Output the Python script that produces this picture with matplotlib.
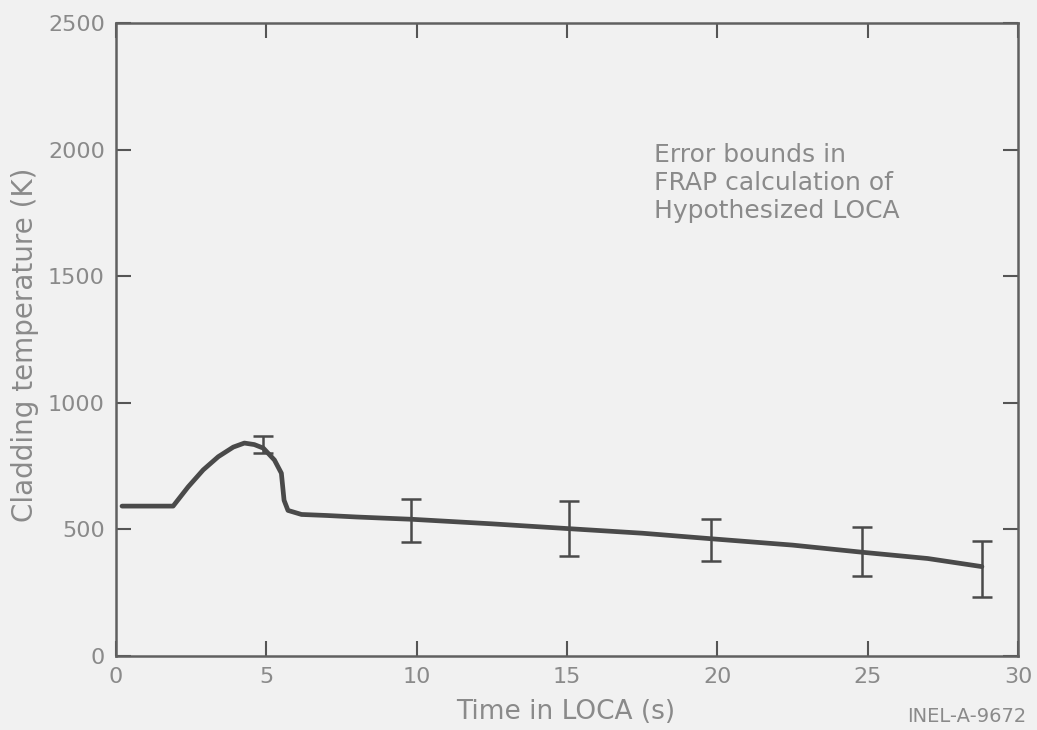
#!/usr/bin/env python3

import numpy as np
import matplotlib
matplotlib.use('Agg')
import matplotlib.pyplot as plt

# cladding temperature curve (s, K)
time = [0.2, 1.0, 1.9, 2.4, 2.9, 3.4, 3.9, 4.27, 4.6, 4.9, 5.27, 5.5,
        5.59, 5.72, 6.17, 7.0, 8.0, 9.0, 9.83, 12.5, 15.05, 17.5, 19.8,
        22.5, 24.8, 27.0, 28.8]
temp = [592, 592, 592, 668, 735, 787, 825, 841, 835, 821, 774, 722,
        615, 575, 559, 555, 549, 544, 540, 522, 503, 485, 463,
        438, 410, 385, 353]

# error bounds
err_t = [4.9, 9.8, 15.05, 19.8, 24.8, 28.8]
err_mid = [821, 540, 503, 463, 410, 353]
err_hi = [870, 619, 612, 540, 509, 456]
err_lo = [800, 450, 393, 374, 317, 234]

xticks = [0, 5, 10, 15, 20, 25, 30]
yticks = [0, 500, 1000, 1500, 2000, 2500]

bg = '#f1f1f1'
ink = '#4a4a4a'
txt = '#8a8a8a'

plt.rcParams['font.family'] = ['DejaVu Sans']

fig = plt.figure(figsize=(10.37, 7.30), dpi=100, facecolor=bg)
ax = fig.add_axes([116/1037, 1 - 656/730, (1018-116)/1037, (656-23)/730])
ax.set_facecolor(bg)

ax.plot(time, temp, color=ink, lw=3.4, solid_capstyle='round')
lo = np.array(err_mid) - np.array(err_lo)
hi = np.array(err_hi) - np.array(err_mid)
ax.errorbar(err_t, err_mid, yerr=[lo, hi], fmt='none', ecolor=ink,
            elinewidth=1.8, capsize=7, capthick=1.8)

ax.set_xlim(0, 30)
ax.set_ylim(0, 2500)
ax.set_xticks(xticks)
ax.set_yticks(yticks)
ax.tick_params(direction='in', length=11, width=1.5, color='#555555',
               top=True, right=True, labelsize=16, labelcolor=txt, pad=8)
for s in ax.spines.values():
    s.set_color('#606060')
    s.set_linewidth(1.8)

ax.text(17.9, 1868, 'Error bounds in\nFRAP calculation of\nHypothesized LOCA',
        fontsize=18, color=txt, va='center', ha='left', linespacing=1.2)

fig.text(25/1037, 1 - 345/730, 'Cladding temperature (K)', rotation=90,
         fontsize=20, color=txt, ha='center', va='center')
fig.text(566/1037, 1 - 712/730, 'Time in LOCA (s)', fontsize=19, color=txt,
         ha='center', va='center')
fig.text(967/1037, 1 - 717/730, 'INEL-A-9672', fontsize=14, color=txt,
         ha='center', va='center')

fig.savefig('out.png', dpi=100, facecolor=bg)
